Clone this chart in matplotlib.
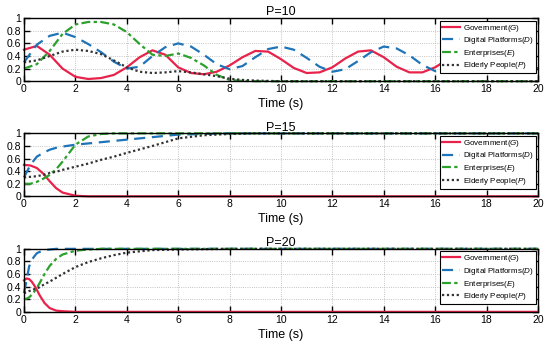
import matplotlib
matplotlib.use("Agg")
import matplotlib.pyplot as plt

plt.rcParams['font.family'] = ['Liberation Sans', 'DejaVu Sans']
plt.rcParams['mathtext.fontset'] = 'custom'
plt.rcParams['mathtext.rm'] = 'Liberation Sans'
plt.rcParams['mathtext.it'] = 'Liberation Sans:italic'

# P = 10 (oscillating case), sampled every 0.5 s
t10 = [0, 0.5, 1, 1.5, 2, 2.5, 3, 3.5, 4, 4.5, 5, 5.5, 6, 6.5, 7, 7.5, 8, 8.5, 9, 9.5,
       10, 10.5, 11, 11.5, 12, 12.5, 13, 13.5, 14, 14.5, 15, 15.5, 16, 16.5, 17, 17.5,
       18, 18.5, 19, 19.5, 20]
G10 = [0.50, 0.56, 0.42, 0.20, 0.07, 0.035, 0.05, 0.10, 0.22, 0.38, 0.49, 0.42, 0.22, 0.13,
       0.11, 0.15, 0.25, 0.38, 0.48, 0.47, 0.35, 0.21, 0.13, 0.14, 0.22, 0.36, 0.47, 0.49,
       0.38, 0.23, 0.14, 0.14, 0.22, 0.35, 0.46, 0.49, 0.40, 0.25, 0.15, 0.14, 0.21]
D10 = [0.30, 0.58, 0.72, 0.77, 0.70, 0.59, 0.46, 0.31, 0.20, 0.23, 0.40, 0.54, 0.60, 0.55,
       0.42, 0.27, 0.19, 0.24, 0.38, 0.51, 0.55, 0.50, 0.37, 0.23, 0.15, 0.19, 0.32, 0.46,
       0.55, 0.52, 0.41, 0.26, 0.16, 0.18, 0.30, 0.44, 0.54, 0.53, 0.43, 0.30, 0.20]
E10 = [0.20, 0.27, 0.48, 0.75, 0.90, 0.94, 0.94, 0.90, 0.78, 0.59, 0.42, 0.40, 0.44, 0.37,
       0.25, 0.10, 0.02, 0.005, 0, 0, 0, 0, 0, 0, 0, 0, 0, 0, 0, 0, 0, 0, 0, 0, 0, 0, 0, 0,
       0, 0, 0]
P10 = [0.30, 0.33, 0.40, 0.47, 0.50, 0.48, 0.43, 0.33, 0.22, 0.15, 0.13, 0.14, 0.16, 0.14,
       0.11, 0.08, 0.04, 0.02, 0.01, 0.005, 0, 0, 0, 0, 0, 0, 0, 0, 0, 0, 0, 0, 0, 0, 0, 0,
       0, 0, 0, 0, 0]

# P = 15
t15 = [0, 0.25, 0.5, 0.75, 1, 1.25, 1.5, 2, 2.5, 3, 3.5, 4, 5, 6, 7, 8, 9, 10, 20]
G15 = [0.50, 0.49, 0.45, 0.36, 0.24, 0.13, 0.06, 0.01, 0, 0, 0, 0, 0, 0, 0, 0, 0, 0, 0]
D15 = [0.30, 0.50, 0.63, 0.69, 0.74, 0.77, 0.79, 0.82, 0.84, 0.86, 0.88, 0.90, 0.94, 0.98,
       0.99, 1.0, 1.0, 1.0, 1.0]
E15 = [0.20, 0.20, 0.23, 0.28, 0.34, 0.43, 0.55, 0.82, 0.95, 0.99, 1.0, 1.0, 1.0, 1.0, 1.0,
       1.0, 1.0, 1.0, 1.0]
P15 = [0.30, 0.31, 0.32, 0.34, 0.37, 0.39, 0.42, 0.47, 0.52, 0.58, 0.63, 0.69, 0.80, 0.92,
       0.97, 0.99, 1.0, 1.0, 1.0]

# P = 20
t20 = [0, 0.1, 0.2, 0.3, 0.4, 0.5, 0.6, 0.8, 1, 1.25, 1.5, 2, 2.5, 3, 3.5, 4, 5, 6, 8, 20]
G20 = [0.50, 0.53, 0.52, 0.48, 0.42, 0.35, 0.27, 0.14, 0.06, 0.02, 0.01, 0, 0, 0, 0, 0, 0,
       0, 0, 0]
D20 = [0.30, 0.50, 0.72, 0.82, 0.88, 0.93, 0.95, 0.98, 0.99, 1.0, 1.0, 1.0, 1.0, 1.0, 1.0,
       1.0, 1.0, 1.0, 1.0, 1.0]
E20 = [0.20, 0.21, 0.23, 0.27, 0.32, 0.38, 0.45, 0.60, 0.73, 0.84, 0.91, 0.97, 0.99, 1.0,
       1.0, 1.0, 1.0, 1.0, 1.0, 1.0]
P20 = [0.30, 0.31, 0.33, 0.34, 0.36, 0.37, 0.39, 0.44, 0.48, 0.54, 0.60, 0.71, 0.79, 0.85,
       0.90, 0.94, 0.98, 0.99, 1.0, 1.0]

labels = ['Government($\\it{G}$)', 'Digital Platforms($\\it{D}$)',
          'Enterprises($\\it{E}$)', 'Elderly People($\\it{P}$)']
colors = ['#e8224a', '#1f74b8', '#2ca02c', '#333333']
styles = ['-', (0, (5, 3)), (0, (4, 1.5, 1.5, 1.5)), (0, (1, 1.2))]

panels = [
    ('P=10', t10, [G10, D10, E10, P10]),
    ('P=15', t15, [G15, D15, E15, P15]),
    ('P=20', t20, [G20, D20, E20, P20]),
]

fig = plt.figure(figsize=(5.5, 3.5), dpi=100)
tops = [0.948, 0.619, 0.289]
h = 0.180

for (title, t, series), top in zip(panels, tops):
    ax = fig.add_axes([0.0436, top - h, 0.9345, h])
    for y, c, ls, lab in zip(series, colors, styles, labels):
        ax.plot(t, y, color=c, linestyle=ls, linewidth=1.6, label=lab, clip_on=False)
    ax.set_xlim(0, 20)
    ax.set_ylim(0, 1)
    ax.set_xticks(range(0, 21, 2))
    ax.set_yticks([0, 0.2, 0.4, 0.6, 0.8, 1])
    ax.set_yticklabels(['0', '0.2', '0.4', '0.6', '0.8', '1'])
    ax.tick_params(direction='in', top=True, right=True, length=4, width=1,
                   labelsize=7.5, pad=2)
    ax.grid(True, linestyle=':', linewidth=0.6, color='#b0b0b0')
    for s in ax.spines.values():
        s.set_linewidth(1)
    ax.set_title(title, fontsize=9, pad=2)
    ax.set_xlabel('Time (s)', fontsize=9, labelpad=3)
    leg = ax.legend(loc='upper right', fontsize=5.8, frameon=True, fancybox=False,
                    framealpha=1, borderaxespad=0.3, handlelength=2.3,
                    handletextpad=0.3, labelspacing=0.2, borderpad=0.25)
    leg.get_frame().set_edgecolor('black')
    leg.get_frame().set_linewidth(0.8)
    leg.set_zorder(5)

fig.savefig('out.png', dpi=100)
